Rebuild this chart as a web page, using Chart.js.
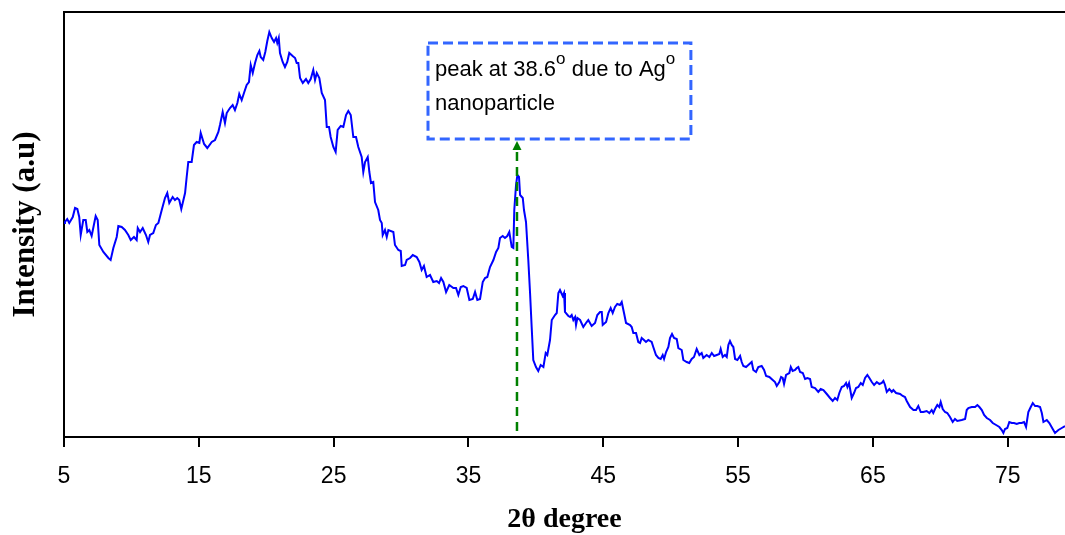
<!DOCTYPE html>
<html lang="en">
  <head>
    <meta charset="utf-8" />
    <title>XRD pattern</title>
    <script src="https://cdn.jsdelivr.net/npm/chart.js"></script>
    <style>
      body { margin: 0; background: #fff; }
      #wrap { width: 1065px; height: 535px; }
    </style>
  </head>
  <body>
    <div id="wrap"><canvas id="xrdChart"></canvas></div>

    <script>
      // 2theta (degree) and intensity (a.u.)
      const twoTheta = [
        5.00, 5.07, 5.24, 5.39, 5.65, 5.82, 5.99, 6.13, 6.24, 6.43,
        6.61, 6.73, 6.88, 7.05, 7.17, 7.35, 7.50, 7.62, 7.92, 8.29,
        8.46, 8.66, 8.91, 9.03, 9.28, 9.52, 9.77, 9.95, 10.19, 10.39,
        10.47, 10.64, 10.84, 11.08, 11.25, 11.38, 11.62, 11.82, 12.00, 12.25,
        12.49, 12.66, 12.81, 13.06, 13.23, 13.40, 13.55, 13.70, 13.98, 14.10,
        14.22, 14.47, 14.64, 14.84, 15.04, 15.14, 15.39, 15.63, 15.96, 16.20,
        16.45, 16.57, 16.77, 16.94, 17.07, 17.31, 17.51, 17.68, 17.86, 18.00,
        18.18, 18.35, 18.55, 18.72, 18.85, 19.00, 19.17, 19.34, 19.49, 19.59,
        19.78, 19.93, 20.08, 20.23, 20.41, 20.58, 20.73, 20.82, 20.93, 21.02,
        21.22, 21.39, 21.56, 21.71, 21.96, 22.14, 22.26, 22.38, 22.51, 22.71,
        22.95, 23.12, 23.30, 23.49, 23.62, 23.75, 23.94, 24.12, 24.36, 24.49,
        24.66, 24.78, 24.98, 25.15, 25.30, 25.53, 25.72, 25.92, 26.09, 26.27,
        26.46, 26.66, 26.83, 27.08, 27.20, 27.33, 27.53, 27.65, 27.77, 27.94,
        28.07, 28.31, 28.44, 28.57, 28.64, 28.81, 28.94, 29.06, 29.43, 29.55,
        29.80, 29.98, 30.05, 30.30, 30.42, 30.67, 30.87, 31.16, 31.36, 31.53,
        31.70, 31.90, 32.15, 32.39, 32.65, 32.82, 32.97, 33.14, 33.34, 33.58,
        33.88, 34.08, 34.25, 34.43, 34.62, 34.87, 35.07, 35.32, 35.49, 35.66,
        35.86, 36.06, 36.23, 36.40, 36.60, 36.85, 37.05, 37.22, 37.34, 37.54,
        37.71, 37.88, 38.03, 38.21, 38.33, 38.40, 38.53, 38.63, 38.75, 38.83,
        39.03, 39.12, 39.27, 39.44, 39.57, 39.69, 39.81, 40.01, 40.18, 40.36,
        40.56, 40.73, 40.85, 41.05, 41.18, 41.42, 41.55, 41.67, 41.79, 41.99,
        42.09, 42.16, 42.41, 42.54, 42.66, 42.78, 42.91, 42.98, 43.08, 43.28,
        43.52, 43.77, 43.89, 44.14, 44.39, 44.56, 44.76, 44.89, 44.96, 45.21,
        45.38, 45.55, 45.70, 45.87, 46.04, 46.24, 46.37, 46.54, 46.69, 46.99,
        47.11, 47.23, 47.43, 47.60, 47.73, 47.85, 48.02, 48.17, 48.34, 48.59,
        48.71, 48.91, 49.09, 49.26, 49.41, 49.51, 49.66, 49.83, 49.95, 50.10,
        50.25, 50.45, 50.57, 50.82, 50.94, 51.19, 51.38, 51.56, 51.73, 51.93,
        52.13, 52.30, 52.42, 52.67, 52.87, 53.05, 53.22, 53.42, 53.61, 53.71,
        53.86, 54.03, 54.16, 54.28, 54.40, 54.53, 54.65, 54.78, 54.95, 55.15,
        55.27, 55.39, 55.59, 55.76, 56.01, 56.13, 56.33, 56.50, 56.75, 56.93,
        57.08, 57.32, 57.57, 57.74, 57.87, 58.06, 58.19, 58.31, 58.41, 58.56,
        58.80, 58.91, 59.05, 59.23, 59.35, 59.47, 59.60, 59.80, 59.97, 60.14,
        60.34, 60.46, 60.71, 60.95, 61.13, 61.33, 61.58, 61.82, 62.02, 62.19,
        62.36, 62.51, 62.69, 62.86, 63.01, 63.11, 63.23, 63.43, 63.60, 63.75,
        63.92, 64.10, 64.25, 64.42, 64.59, 64.74, 64.92, 65.09, 65.29, 65.48,
        65.66, 65.78, 65.90, 66.03, 66.22, 66.40, 66.52, 66.72, 67.02, 67.21,
        67.38, 67.51, 67.76, 68.01, 68.20, 68.37, 68.55, 68.74, 68.99, 69.19,
        69.36, 69.48, 69.61, 69.78, 69.93, 70.03, 70.18, 70.35, 70.52, 70.72,
        70.92, 71.09, 71.26, 71.59, 71.84, 71.96, 72.08, 72.33, 72.58, 72.75,
        72.90, 73.08, 73.25, 73.45, 73.69, 73.89, 74.14, 74.38, 74.56, 74.68,
        74.80, 74.97, 75.12, 75.30, 75.47, 75.67, 75.86, 76.04, 76.21, 76.36,
        76.53, 76.71, 76.86, 77.03, 77.20, 77.40, 77.53, 77.65, 77.90, 78.09,
        78.34, 78.51, 78.76, 79.01, 79.25
      ];

      const intensity = [
        214, 215, 218, 214, 220, 229, 228, 220, 202, 217,
        217, 205, 207, 201, 209, 221, 217, 192, 185, 179,
        177, 189, 200, 211, 210, 207, 202, 197, 200, 197,
        209, 205, 209, 202, 195, 202, 204, 212, 214, 227,
        239, 244, 234, 240, 237, 239, 237, 228, 244, 260,
        275, 275, 292, 295, 294, 304, 293, 289, 295, 297,
        305, 312, 325, 314, 324, 329, 332, 327, 334, 343,
        337, 344, 352, 355, 372, 364, 374, 382, 386, 380,
        377, 385, 396, 405, 399, 395, 399, 394, 399, 384,
        375, 370, 375, 384, 381, 379, 374, 374, 359, 354,
        358, 354, 358, 367, 357, 364, 359, 344, 337, 310,
        310, 300, 290, 285, 307, 311, 310, 322, 326, 322,
        300, 300, 290, 280, 265, 275, 280, 265, 254, 255,
        235, 227, 217, 214, 202, 207, 200, 207, 205, 192,
        187, 186, 171, 172, 177, 179, 182, 180, 175, 167,
        171, 160, 162, 155, 156, 154, 159, 155, 145, 152,
        149, 149, 142, 150, 151, 149, 137, 138, 145, 137,
        138, 155, 159, 160, 170, 177, 185, 189, 199, 201,
        199, 201, 205, 190, 189, 227, 252, 262, 260, 242,
        239, 227, 215, 177, 144, 110, 77, 70, 66, 72,
        70, 84, 82, 97, 117, 122, 124, 144, 147, 141,
        144, 125, 121, 120, 122, 117, 120, 112, 119, 117,
        110, 115, 117, 111, 114, 122, 125, 125, 112, 115,
        124, 129, 124, 130, 133, 132, 135, 124, 114, 112,
        110, 104, 104, 95, 94, 99, 97, 95, 97, 95,
        90, 82, 79, 78, 82, 78, 85, 90, 99, 103,
        99, 98, 89, 87, 77, 75, 74, 78, 80, 88,
        82, 84, 79, 82, 80, 84, 81, 82, 83, 88,
        80, 82, 80, 92, 96, 92, 90, 78, 77, 81,
        75, 71, 70, 72, 75, 67, 65, 70, 71, 67,
        61, 60, 57, 55, 51, 55, 60, 59, 53, 62,
        64, 70, 66, 67, 69, 70, 65, 64, 58, 59,
        58, 50, 49, 45, 48, 47, 43, 39, 36, 39,
        37, 44, 50, 51, 54, 50, 54, 39, 44, 49,
        50, 54, 52, 59, 62, 59, 55, 52, 55, 53,
        54, 56, 52, 45, 48, 45, 47, 44, 43, 41,
        40, 36, 30, 27, 27, 31, 25, 25, 26, 24,
        27, 24, 28, 32, 30, 35, 28, 25, 24, 20,
        15, 18, 16, 17, 18, 27, 29, 30, 30, 32,
        30, 27, 22, 19, 17, 14, 12, 10, 7, 4,
        8, 9, 15, 14, 14, 13, 14, 14, 15, 10,
        25, 30, 34, 31, 31, 30, 24, 15, 17, 14,
        8, 4, 7, 9, 11
      ];

      const xTicks = [5, 15, 25, 35, 45, 55, 65, 75];

      // annotation: marker at the Ag peak and the note box
      const peakAt = 38.6;
      const markerSpan = [6, 296];
      const noteBoxTheta = [32.0, 51.5];
      const noteBoxIntensity = [298, 394];

      let points = twoTheta.map((t, i) => ({ x: t, y: intensity[i] }));

      const notePlugin = {
        id: "peakNote",
        afterDatasetsDraw(chart) {
          const { ctx, chartArea, scales } = chart;
          const x = scales.x;
          const y = scales.y;
          ctx.save();

          // top frame line
          ctx.strokeStyle = "#000";
          ctx.lineWidth = 2;
          ctx.beginPath();
          ctx.moveTo(chartArea.left, chartArea.top);
          ctx.lineTo(chartArea.right, chartArea.top);
          ctx.stroke();

          // green dashed marker with arrow head
          let mx = x.getPixelForValue(peakAt);
          let yLow = y.getPixelForValue(markerSpan[0]);
          let yTip = y.getPixelForValue(markerSpan[1]);
          ctx.strokeStyle = "#008000";
          ctx.lineWidth = 2.5;
          ctx.setLineDash([9, 6]);
          ctx.beginPath();
          ctx.moveTo(mx, yLow);
          ctx.lineTo(mx, yTip + 8);
          ctx.stroke();
          ctx.setLineDash([]);
          ctx.fillStyle = "#008000";
          ctx.beginPath();
          ctx.moveTo(mx, yTip);
          ctx.lineTo(mx - 4.5, yTip + 9);
          ctx.lineTo(mx + 4.5, yTip + 9);
          ctx.closePath();
          ctx.fill();

          // dashed note box
          let bx1 = x.getPixelForValue(noteBoxTheta[0]);
          let bx2 = x.getPixelForValue(noteBoxTheta[1]);
          let by1 = y.getPixelForValue(noteBoxIntensity[1]);
          let by2 = y.getPixelForValue(noteBoxIntensity[0]);
          ctx.strokeStyle = "#3366ff";
          ctx.lineWidth = 3;
          ctx.setLineDash([10, 5]);
          ctx.strokeRect(bx1, by1, bx2 - bx1, by2 - by1);
          ctx.setLineDash([]);

          // note text with superscript degree marks
          const main = "22px 'Liberation Sans', Arial, sans-serif";
          const sup = "17px 'Liberation Sans', Arial, sans-serif";
          let parts = [
            ["peak at 38.6", main, 0],
            ["o", sup, -12],
            [" due to Ag", main, 0],
            ["o", sup, -12],
          ];
          ctx.fillStyle = "#000";
          ctx.textBaseline = "alphabetic";
          ctx.textAlign = "left";
          let tx = bx1 + 7;
          let base1 = by1 + 33;
          parts.forEach(([txt, font, dy]) => {
            ctx.font = font;
            ctx.fillText(txt, tx, base1 + dy);
            tx += ctx.measureText(txt).width;
          });
          ctx.font = main;
          ctx.fillText("nanoparticle", bx1 + 7, by1 + 67);

          ctx.restore();
        },
      };

      new Chart(document.getElementById("xrdChart"), {
        type: "line",
        data: {
          datasets: [
            {
              label: "XRD",
              data: points,
              borderColor: "rgb(0, 0, 255)",
              borderWidth: 2,
              pointRadius: 0,
              tension: 0,
              fill: false,
            },
          ],
        },
        options: {
          responsive: true,
          maintainAspectRatio: false,
          animation: false,
          layout: { padding: { top: 12, right: 0, left: 0, bottom: 0 } },
          plugins: {
            legend: { display: false },
            tooltip: { enabled: false },
          },
          scales: {
            x: {
              type: "linear",
              min: 5,
              max: 79.25,
              afterBuildTicks: (scale) => {
                scale.ticks = xTicks.map((v) => ({ value: v }));
              },
              afterFit: (scale) => {
                scale.height = 98;
              },
              grid: {
                drawOnChartArea: false,
                drawTicks: true,
                tickLength: 10,
                color: "#000",
                lineWidth: 2,
              },
              border: { display: true, color: "#000", width: 2 },
              ticks: {
                color: "#000",
                padding: 16,
                maxRotation: 0,
                font: {
                  family: "'Liberation Sans Narrow', 'Liberation Sans', Arial, sans-serif",
                  size: 23,
                },
              },
              title: {
                display: true,
                text: "2θ degree",
                color: "#000",
                padding: { top: 0, bottom: -2 },
                font: {
                  family: "'Liberation Serif', 'Times New Roman', serif",
                  size: 28,
                  weight: "bold",
                },
              },
            },
            y: {
              min: 0,
              max: 425,
              afterFit: (scale) => {
                scale.width = 64;
              },
              grid: { display: false },
              border: { display: true, color: "#000", width: 2 },
              ticks: { display: false },
              title: {
                display: true,
                text: "Intensity (a.u)",
                color: "#000",
                padding: { top: 7, bottom: 0 },
                font: {
                  family: "'Liberation Serif', 'Times New Roman', serif",
                  size: 31,
                  weight: "bold",
                },
              },
            },
          },
        },
        plugins: [notePlugin],
      });
    </script>
  </body>
</html>
